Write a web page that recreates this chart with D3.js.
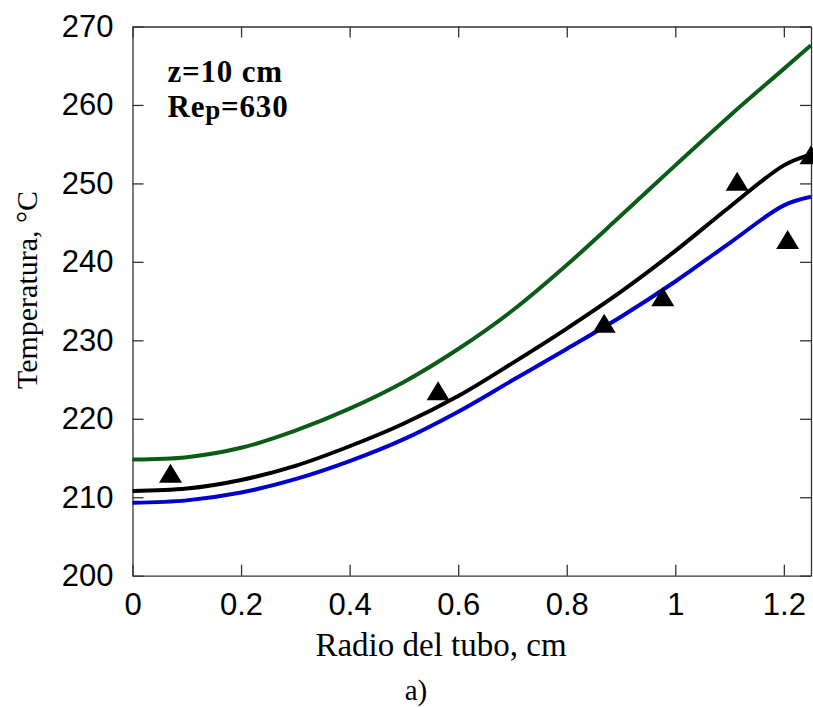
<!DOCTYPE html>
<html>
<head>
<meta charset="utf-8">
<script src="https://cdn.jsdelivr.net/npm/d3@7"></script>
<style>
  body { margin: 0; background: #fff; }
  .tick text { font-family: "Liberation Sans", Arial, sans-serif; font-size: 31px; fill: #000; }
  .axis path, .axis line { stroke: #333; stroke-width: 1.3; }
</style>
</head>
<body>
<div id="chart"></div>
<script>
// radius (cm) where the model curves were read
const radius = [0, 0.1, 0.2, 0.3, 0.4, 0.5, 0.6, 0.7, 0.8, 0.9, 1.0, 1.1, 1.2, 1.25];
const greenCurve = [214.8, 215.1, 216.3, 218.5, 221.3, 224.7, 228.9, 233.8, 239.6, 245.9, 252.3, 258.6, 264.6, 267.6];
const blackCurve = [210.8, 211.1, 212.2, 214.0, 216.5, 219.4, 222.9, 227.1, 231.5, 236.2, 241.4, 247.0, 252.3, 253.7];
const blueCurve = [209.3, 209.6, 210.6, 212.3, 214.6, 217.4, 220.9, 224.9, 228.9, 233.0, 237.5, 242.4, 247.2, 248.3];

// experimental points
const expRadius = [0.07, 0.563, 0.869, 0.977, 1.114, 1.207, 1.25];
const expTemp = [213.0, 223.5, 232.1, 235.5, 250.2, 242.8, 253.6];

const xTicks = [0, 0.2, 0.4, 0.6, 0.8, 1, 1.2];
const yTicks = [200, 210, 220, 230, 240, 250, 260, 270];

const width = 813, height = 707;
const margin = { top: 26.5, right: 2, bottom: 131.3, left: 132.5 };
const w = width - margin.left - margin.right;
const h = height - margin.top - margin.bottom;

const svg = d3.select('#chart')
    .append('svg')
    .attr('width', width)
    .attr('height', height);

const g = svg.append('g')
    .attr('transform', `translate(${margin.left},${margin.top})`);

const x = d3.scaleLinear().domain([0, 1.25]).range([0, w]);
const y = d3.scaleLinear().domain([200, 270]).range([h, 0]);

// axes with inward ticks, mirrored on top and right
g.append('g').attr('class', 'axis')
    .attr('transform', `translate(0,${h})`)
    .call(d3.axisBottom(x).tickValues(xTicks).tickFormat(d3.format('')).tickSize(-11).tickSizeOuter(0).tickPadding(17));
g.append('g').attr('class', 'axis')
    .call(d3.axisLeft(y).tickValues(yTicks).tickFormat(d3.format('')).tickSize(-11).tickSizeOuter(0).tickPadding(19));
g.append('g').attr('class', 'axis')
    .call(d3.axisTop(x).tickValues(xTicks).tickFormat('').tickSize(-11).tickSizeOuter(0));
g.append('g').attr('class', 'axis')
    .attr('transform', `translate(${w},0)`)
    .call(d3.axisRight(y).tickValues(yTicks).tickFormat('').tickSize(-11).tickSizeOuter(0));

const line = d3.line()
    .x((d, i) => x(radius[i]))
    .y(d => y(d))
    .curve(d3.curveCatmullRom.alpha(0.5));

const series = [
    { values: greenCurve, color: '#0b5c17' },
    { values: blackCurve, color: '#000000' },
    { values: blueCurve, color: '#0000cc' }
];

g.selectAll('.curve')
    .data(series)
    .join('path')
    .attr('class', 'curve')
    .attr('d', d => line(d.values))
    .attr('fill', 'none')
    .attr('stroke', d => d.color)
    .attr('stroke-width', 4);

// triangles
g.selectAll('.pt')
    .data(expTemp)
    .join('path')
    .attr('class', 'pt')
    .attr('transform', (d, i) => `translate(${x(expRadius[i])},${y(d)})`)
    .attr('d', 'M0,-10L11.5,9L-11.5,9Z')
    .attr('fill', '#000');

// annotations
const note = g.append('g')
    .attr('font-family', '"Liberation Serif", "Times New Roman", serif')
    .attr('font-weight', 'bold')
    .attr('font-size', 31)
    .attr('letter-spacing', 0.8);
note.append('text')
    .attr('x', 35).attr('y', 55)
    .text('z=10 cm');
const re = note.append('text')
    .attr('x', 35).attr('y', 90);
re.append('tspan').text('Re');
re.append('tspan').attr('font-size', 27).attr('dy', 2).text('p');
re.append('tspan').attr('dy', -2).text('=630');

// axis titles
svg.append('text')
    .attr('x', 441).attr('y', 656)
    .attr('text-anchor', 'middle')
    .attr('font-family', '"Liberation Serif", "Times New Roman", serif')
    .attr('font-size', 33)
    .text('Radio del tubo, cm');

svg.append('text')
    .attr('transform', 'translate(37,290) rotate(-90)')
    .attr('text-anchor', 'middle')
    .attr('font-family', '"Liberation Serif", "Times New Roman", serif')
    .attr('font-size', 30)
    .attr('fill', '#000')
    .text('Temperatura, °C');

svg.append('text')
    .attr('x', 416).attr('y', 700)
    .attr('text-anchor', 'middle')
    .attr('font-family', '"Liberation Serif", "Times New Roman", serif')
    .attr('font-size', 29)
    .text('a)');
</script>
</body>
</html>
